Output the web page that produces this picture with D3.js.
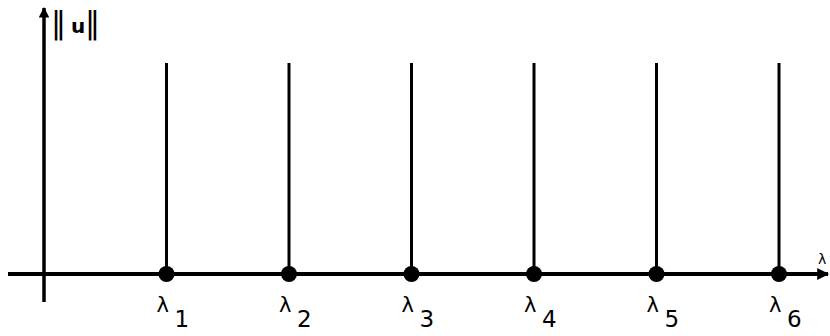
<!DOCTYPE html>
<html>
<head>
<meta charset="utf-8">
<script src="https://cdn.jsdelivr.net/npm/d3@7"></script>
<style>
  body { margin: 0; background: #fff; }
  text { font-family: "DejaVu Sans", sans-serif; fill: #000; }
</style>
</head>
<body>
<div id="container"></div>
<script>
/* DATA */
const eigenIndex = [1, 2, 3, 4, 5, 6];
const normValues = [1, 1, 1, 1, 1, 1];
const labelSubs = ["1", "2", "3", "4", "5", "6"];

/* CONSTANTS */
const width = 830, height = 336;

const xScale = d3.scaleLinear().domain([0, 6]).range([44, 779]);
const yScale = d3.scaleLinear().domain([0, 1]).range([274, 63]);

const svg = d3.select("#container").append("svg")
  .attr("width", width)
  .attr("height", height);

const defs = svg.append("defs");
defs.append("marker")
  .attr("id", "arrow")
  .attr("viewBox", "0 0 10 10")
  .attr("refX", 9).attr("refY", 5)
  .attr("markerWidth", 3.5).attr("markerHeight", 3)
  .attr("orient", "auto")
  .append("path")
  .attr("d", "M0,0 L10,5 L0,10 z")
  .attr("fill", "#000");

/* AXES */
// x axis
svg.append("line")
  .attr("x1", 8).attr("x2", 828)
  .attr("y1", yScale(0)).attr("y2", yScale(0))
  .attr("stroke", "#000").attr("stroke-width", 4)
  .attr("marker-end", "url(#arrow)");

// y axis
svg.append("line")
  .attr("x1", xScale(0)).attr("x2", xScale(0))
  .attr("y1", 302).attr("y2", 8)
  .attr("stroke", "#000").attr("stroke-width", 3.5)
  .attr("marker-end", "url(#arrow)");

svg.append("text")
  .attr("x", 818).attr("y", 264)
  .attr("font-size", 14)
  .text("λ");

// norm label ||u||
const norm = svg.append("g").attr("class", "norm");
norm.append("text").attr("x", 51).attr("y", 33)
  .attr("font-size", 30).text("‖");
norm.append("text").attr("x", 71).attr("y", 33)
  .attr("font-size", 20).attr("font-weight", "bold").text("u");
norm.append("text").attr("x", 85).attr("y", 33)
  .attr("font-size", 30).text("‖");

/* SPIKES */
svg.selectAll("line.spike")
  .data(eigenIndex)
  .enter().append("line")
  .attr("class", "spike")
  .attr("x1", d => xScale(d)).attr("x2", d => xScale(d))
  .attr("y1", (d, i) => yScale(normValues[i]))
  .attr("y2", yScale(0))
  .attr("stroke", "#000").attr("stroke-width", 3);

svg.selectAll("circle.dot")
  .data(eigenIndex)
  .enter().append("circle")
  .attr("class", "dot")
  .attr("cx", d => xScale(d))
  .attr("cy", yScale(0))
  .attr("r", 8)
  .attr("fill", "#000");

/* LABELS */
const labels = svg.selectAll("g.lab")
  .data(eigenIndex)
  .enter().append("g")
  .attr("class", "lab")
  .attr("transform", d => `translate(${xScale(d)},0)`);

labels.append("text")
  .attr("x", -10).attr("y", 312)
  .attr("font-size", 21)
  .text("λ");

labels.append("text")
  .attr("x", 8).attr("y", 327)
  .attr("font-size", 23)
  .text((d, i) => labelSubs[i]);
</script>
</body>
</html>
